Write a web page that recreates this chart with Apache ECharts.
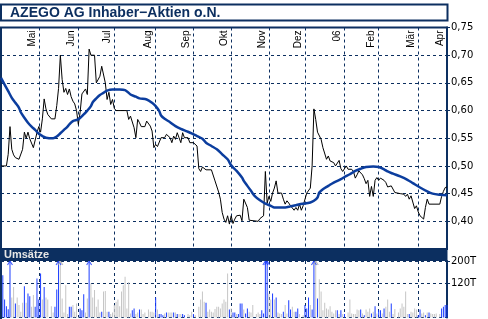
<!DOCTYPE html>
<html><head><meta charset="utf-8">
<script src="https://cdn.jsdelivr.net/npm/echarts@6/dist/echarts.min.js"></script>
<style>html,body{margin:0;padding:0;background:#fff}#c{width:488px;height:319px}</style>
</head><body><div id="c"></div>
<script>
const titleText = 'AZEGO AG Inhaber\u2212Aktien o.N.';
const volumeTitle = 'Umsätze';
const monthNames = ['Mai','Jun','Jul','Aug','Sep','Okt','Nov','Dez','06','Feb','Mär','Apr'];
const monthStartDay = [21,43,63,86,107,128,149,169,191,210,232,248];
const dayCount = 249;
const priceMin = 0.35, priceMax = 0.75, priceStep = 0.05;
const volMax = 200, volStep = 120;

// [trading day, close]
const price = [[0,0.500],[3,0.500],[4,0.521],[5,0.571],[6,0.530],[7,0.520],[8,0.515],[9,0.518],[10,0.512],[11,0.512],[12,0.530],[13,0.561],[14,0.550],[15,0.561],[16,0.549],[17,0.552],[18,0.533],[19,0.533],[20,0.560],[21,0.571],[22,0.561],[23,0.585],[24,0.621],[25,0.603],[26,0.593],[28,0.585],[29,0.588],[30,0.585],[31,0.609],[32,0.640],[33,0.700],[34,0.656],[35,0.633],[36,0.640],[37,0.629],[38,0.639],[39,0.625],[40,0.617],[41,0.612],[42,0.600],[43,0.575],[44,0.597],[45,0.630],[46,0.633],[47,0.639],[48,0.629],[49,0.711],[50,0.700],[52,0.700],[53,0.650],[54,0.650],[55,0.662],[56,0.680],[57,0.677],[58,0.650],[59,0.620],[60,0.633],[61,0.611],[62,0.620],[63,0.604],[64,0.600],[70,0.600],[71,0.584],[72,0.590],[73,0.588],[74,0.569],[75,0.551],[76,0.584],[77,0.578],[78,0.571],[80,0.571],[81,0.581],[82,0.581],[83,0.572],[84,0.563],[85,0.533],[86,0.539],[87,0.535],[88,0.533],[89,0.551],[90,0.554],[91,0.551],[92,0.557],[93,0.560],[94,0.551],[95,0.542],[96,0.554],[97,0.548],[98,0.560],[99,0.551],[100,0.542],[101,0.560],[102,0.551],[104,0.551],[105,0.542],[107,0.542],[108,0.540],[109,0.536],[110,0.495],[111,0.490],[112,0.498],[113,0.498],[114,0.493],[117,0.493],[118,0.490],[119,0.473],[120,0.470],[121,0.453],[122,0.440],[123,0.416],[124,0.404],[125,0.398],[126,0.410],[127,0.395],[128,0.410],[129,0.396],[130,0.404],[131,0.410],[133,0.411],[134,0.401],[135,0.440],[136,0.441],[137,0.425],[138,0.402],[139,0.400],[143,0.400],[144,0.405],[145,0.407],[146,0.410],[147,0.490],[148,0.433],[149,0.445],[150,0.436],[151,0.451],[152,0.460],[153,0.473],[154,0.451],[156,0.451],[157,0.440],[158,0.431],[159,0.437],[160,0.433],[161,0.428],[162,0.431],[163,0.420],[164,0.425],[165,0.420],[166,0.431],[167,0.420],[168,0.428],[169,0.431],[170,0.451],[171,0.451],[172,0.460],[173,0.500],[174,0.603],[175,0.584],[176,0.561],[177,0.564],[178,0.548],[179,0.533],[180,0.530],[181,0.512],[182,0.518],[183,0.509],[184,0.509],[185,0.506],[186,0.500],[187,0.500],[188,0.510],[189,0.495],[190,0.490],[191,0.492],[192,0.500],[193,0.494],[195,0.494],[196,0.490],[197,0.478],[198,0.484],[199,0.491],[200,0.494],[201,0.484],[202,0.477],[203,0.468],[204,0.474],[205,0.445],[206,0.463],[207,0.445],[208,0.474],[209,0.479],[210,0.474],[211,0.478],[212,0.481],[213,0.474],[214,0.470],[215,0.462],[216,0.464],[217,0.464],[218,0.461],[219,0.452],[220,0.450],[222,0.450],[224,0.449],[225,0.445],[226,0.449],[227,0.440],[228,0.446],[229,0.444],[230,0.423],[231,0.428],[232,0.417],[233,0.410],[234,0.407],[235,0.404],[236,0.425],[237,0.440],[238,0.431],[244,0.431],[245,0.445],[246,0.454],[247,0.461],[248,0.462]];

// [trading day, moving average]
const average = [[0,0.659],[2,0.647],[4,0.635],[6,0.623],[8,0.614],[10,0.605],[11,0.597],[13,0.587],[15,0.578],[17,0.571],[19,0.565],[21,0.558],[23,0.554],[25,0.551],[29,0.550],[31,0.553],[33,0.559],[35,0.565],[37,0.571],[38,0.575],[40,0.581],[43,0.584],[46,0.593],[48,0.600],[50,0.608],[51,0.615],[53,0.622],[55,0.628],[57,0.632],[59,0.636],[62,0.638],[66,0.638],[69,0.637],[72,0.629],[75,0.625],[77,0.622],[81,0.620],[84,0.614],[86,0.608],[88,0.599],[89,0.591],[91,0.585],[94,0.579],[97,0.572],[100,0.567],[103,0.563],[106,0.559],[109,0.554],[112,0.549],[114,0.542],[117,0.536],[120,0.530],[123,0.521],[126,0.512],[128,0.501],[131,0.491],[134,0.479],[135,0.473],[137,0.464],[139,0.455],[141,0.446],[144,0.438],[147,0.432],[150,0.428],[152,0.425],[158,0.425],[161,0.427],[164,0.429],[166,0.431],[169,0.432],[172,0.434],[174,0.437],[176,0.443],[177,0.452],[179,0.458],[182,0.464],[185,0.470],[189,0.476],[191,0.480],[194,0.485],[197,0.491],[200,0.495],[203,0.498],[207,0.499],[210,0.498],[213,0.494],[215,0.490],[218,0.486],[222,0.481],[226,0.475],[229,0.469],[233,0.461],[237,0.454],[240,0.450],[244,0.448],[248,0.447]];

// [trading day, volume in thousands, 1 = blue / 0 = grey]
const volume = [[1,150,1],[2,64,1],[3,40,1],[4,29,1],[5,250,1],[6,71,0],[7,108,0],[8,50,1],[9,71,0],[10,44,0],[11,20,0],[12,52,0],[13,111,1],[14,52,0],[15,85,1],[16,75,1],[17,38,0],[18,80,0],[19,38,1],[20,138,1],[21,64,1],[22,156,1],[23,64,0],[24,108,1],[25,71,0],[26,64,0],[28,40,0],[29,18,0],[30,38,1],[31,99,1],[32,250,1],[33,250,0],[34,67,0],[35,18,0],[36,114,0],[37,12,0],[38,38,1],[39,38,1],[40,44,0],[41,20,0],[42,50,0],[44,32,1],[45,26,1],[46,82,1],[47,18,0],[48,67,0],[49,250,1],[50,120,0],[51,71,0],[52,97,0],[53,38,0],[54,64,0],[55,18,0],[56,20,1],[57,92,0],[58,94,0],[59,20,0],[60,20,1],[61,12,0],[62,18,0],[63,44,0],[64,56,0],[65,64,0],[66,40,0],[67,92,0],[68,114,0],[69,144,0],[70,32,0],[71,126,0],[72,14,0],[73,26,1],[74,32,1],[75,12,0],[76,18,0],[77,28,1],[78,28,0],[79,12,0],[80,18,0],[82,28,0],[83,20,0],[84,20,0],[85,18,0],[86,71,1],[87,28,0],[88,12,1],[89,12,1],[90,8,1],[91,14,0],[92,18,1],[93,18,0],[94,18,0],[95,18,0],[96,18,1],[97,18,0],[98,12,1],[99,12,0],[100,12,0],[101,12,1],[102,8,1],[104,12,0],[105,8,0],[106,20,0],[107,12,1],[108,8,0],[110,38,0],[111,64,0],[112,92,0],[113,56,0],[114,52,1],[115,20,0],[116,28,0],[117,20,0],[118,18,0],[119,30,0],[120,38,0],[121,38,0],[122,32,0],[123,50,0],[124,64,0],[125,56,0],[126,156,0],[127,28,1],[128,32,0],[129,18,1],[130,18,1],[131,12,0],[132,12,1],[133,50,1],[134,50,1],[135,28,0],[136,14,1],[137,32,1],[138,20,0],[139,18,0],[140,44,0],[142,12,0],[143,18,0],[144,12,0],[145,26,1],[146,14,1],[147,250,1],[148,250,1],[149,85,0],[150,64,0],[151,85,1],[152,64,0],[153,71,1],[154,18,0],[155,14,0],[156,12,0],[157,20,1],[158,44,0],[159,14,0],[160,61,1],[161,28,1],[162,38,0],[163,20,0],[164,20,1],[165,32,1],[166,12,0],[168,8,0],[169,44,1],[170,32,1],[171,71,1],[172,44,0],[173,28,1],[174,250,1],[175,250,0],[176,67,1],[177,135,0],[178,92,0],[179,26,0],[180,52,0],[181,32,0],[182,28,0],[183,40,0],[184,20,0],[185,14,0],[186,26,0],[187,26,1],[188,12,0],[189,26,1],[190,12,0],[191,12,1],[193,18,0],[194,64,0],[195,14,0],[196,12,0],[197,12,0],[198,28,0],[199,26,0],[200,28,1],[201,14,0],[202,8,1],[203,28,0],[204,20,0],[205,32,0],[206,14,1],[207,20,0],[208,40,1],[209,14,0],[210,26,1],[211,26,1],[212,14,0],[213,32,1],[214,38,0],[215,64,0],[216,20,0],[217,50,1],[218,12,0],[219,30,0],[221,18,0],[222,32,0],[223,50,0],[224,38,0],[225,92,0],[226,12,0],[227,12,1],[228,20,0],[229,18,0],[230,32,0],[231,28,0],[232,8,1],[233,28,1],[234,14,0],[235,18,0],[236,8,1],[237,18,0],[238,18,1],[239,14,0],[240,12,0],[241,12,0],[242,14,0],[244,12,0],[245,32,1],[246,38,1],[247,44,1],[248,44,1]];

const navy = '#0c2f60';
const upColor = '#1a3cff';
const downColor = '#c6c6c6';
const maColor = '#0b3d9e';
const dash = [3, 3];
const monthFont = '10px "Liberation Sans Narrow","Liberation Sans",Arial,sans-serif';

const dayIds = Array.from({length: dayCount}, (_, i) => String(i));
const isMonthStart = (i) => monthStartDay.indexOf(i) >= 0;

const baseGraphics = [
  {type: 'rect', shape: {x: 1, y: 4.5, width: 446.5, height: 16}, style: {fill: '#fff', stroke: navy, lineWidth: 2}, z: 100},
  {type: 'text', x: 10, y: 13.5, style: {text: titleText, font: 'bold 14px "Liberation Sans",Arial,sans-serif', fill: navy, verticalAlign: 'middle'}, z: 101},
  {type: 'rect', shape: {x: 0, y: 248.5, width: 447.5, height: 12.5}, style: {fill: navy}, z: 100},
  {type: 'text', x: 4, y: 255, style: {text: volumeTitle, font: 'bold 11px "Liberation Sans",Arial,sans-serif', fill: '#e6e6e6', verticalAlign: 'middle'}, z: 101},
  {type: 'line', shape: {x1: 1, y1: 261, x2: 1, y2: 319}, style: {stroke: navy, lineWidth: 2}, z: 100}
];

const chart = echarts.init(document.getElementById('c'), null, {renderer: 'canvas'});
chart.setOption({
  animation: false,
  backgroundColor: '#fff',
  grid: [
    {left: 1, right: 41, top: 27.5, height: 221.5, show: true, borderColor: navy, borderWidth: 2, backgroundColor: 'transparent'},
    {left: 1, right: 41, top: 261, height: 56.5, show: false}
  ],
  xAxis: [
    {type: 'category', gridIndex: 0, data: dayIds, position: 'top', boundaryGap: false,
      axisLine: {show: false}, axisTick: {show: false}, axisLabel: {show: false},
      splitLine: {show: true, interval: (i) => isMonthStart(i), lineStyle: {color: navy, type: dash, width: 1}}},
    {type: 'category', gridIndex: 1, data: dayIds, boundaryGap: false,
      axisLine: {show: false}, axisTick: {show: false}, axisLabel: {show: false},
      splitLine: {show: true, interval: (i) => isMonthStart(i), lineStyle: {color: navy, type: dash, width: 1}}}
  ],
  yAxis: [
    {type: 'value', gridIndex: 0, position: 'right', min: priceMin, max: priceMax, interval: priceStep,
      axisLine: {show: true, lineStyle: {color: navy, width: 2}},
      axisTick: {show: true, length: 3, lineStyle: {color: navy}},
      axisLabel: {showMinLabel: false, margin: 4, color: '#000', fontSize: 10, fontFamily: '"DejaVu Sans",sans-serif',
        formatter: (v) => v.toFixed(2).replace('.', ',')},
      splitLine: {show: true, lineStyle: {color: navy, type: dash, width: 1}}},
    {type: 'value', gridIndex: 1, position: 'right', min: 0, max: volMax, interval: volStep,
      axisLine: {show: true, lineStyle: {color: navy, width: 2}},
      axisTick: {show: true, length: 3, lineStyle: {color: navy}},
      axisLabel: {showMinLabel: false, margin: 4, color: '#000', fontSize: 10, fontFamily: '"DejaVu Sans",sans-serif',
        formatter: (v) => v + 'T'},
      splitLine: {show: true, lineStyle: {color: navy, type: dash, width: 1}}}
  ],
  series: [
    {type: 'line', xAxisIndex: 0, yAxisIndex: 0, data: price, showSymbol: false,
      lineStyle: {color: '#000', width: 1}, z: 3},
    {type: 'line', xAxisIndex: 0, yAxisIndex: 0, data: average, showSymbol: false, smooth: 0.3,
      lineStyle: {color: maColor, width: 2.5}, z: 4},
    {type: 'bar', xAxisIndex: 1, yAxisIndex: 1, barWidth: 1,
      data: volume.map(v => ({value: [v[0], v[1]], itemStyle: {color: v[2] ? upColor : downColor}})), z: 3},
    {type: 'scatter', xAxisIndex: 1, yAxisIndex: 1, symbol: 'path://M0,5L3,0L6,5', symbolSize: [5, 4], symbolOffset: [0, 2],
      data: volume.filter(v => v[1] > volMax).map(v => ({value: [v[0], volMax],
        itemStyle: {color: 'rgba(0,0,0,0)', borderColor: v[2] ? upColor : '#aaaaaa', borderWidth: 1}})), z: 5}
  ],
  graphic: baseGraphics
});

// month labels: vertical text just left of each month grid line (position from the x axis scale)
const monthLabels = monthNames.map((name, k) => {
  const px = chart.convertToPixel({xAxisIndex: 0}, dayIds[monthStartDay[k]]);
  return {type: 'text', x: px - 2, y: 30.5, rotation: Math.PI / 2,
    style: {text: name, align: 'right', verticalAlign: 'bottom', font: monthFont, fill: '#000'}, z: 50};
});
chart.setOption({graphic: baseGraphics.concat(monthLabels)});
</script>
</body></html>
